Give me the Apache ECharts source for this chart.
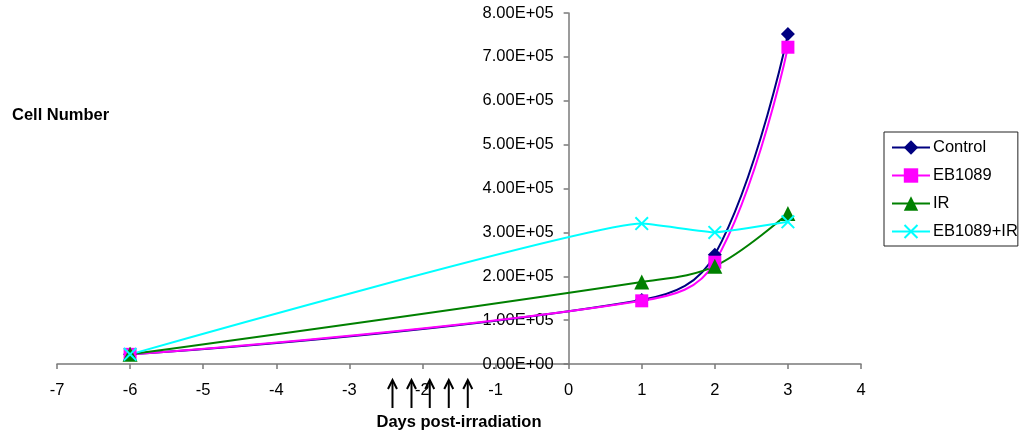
<!DOCTYPE html>
<html>
<head>
<meta charset="utf-8">
<title>Cell Number</title>
<script src="https://cdn.jsdelivr.net/npm/echarts@6/dist/echarts.min.js"></script>
<style>
  html, body { margin: 0; padding: 0; background: #fff; }
  #chart { width: 1027px; height: 436px; }
</style>
</head>
<body>
<div id="chart"></div>
<script>
// Days post-irradiation at which cells were counted
const days = [-6, 1, 2, 3];

// Cell counts per treatment group
const control   = [22000, 146000, 249000, 752000];
const eb1089    = [22000, 144000, 232000, 722000];
const ir        = [22000, 187000, 223000, 343000];
const eb1089Ir  = [22000, 320000, 300000, 324000];

// Irradiation time points, marked with arrows under the axis
const arrowDays = [-2.41, -2.15, -1.9, -1.64, -1.38];

const FONT = '"Liberation Sans", Arial, sans-serif';
const AXIS_GREY = '#7a7a7a';

// Cross-shaped symbol (filled outline so it can be coloured like the others)
const CROSS = 'path://M0,1 L1,0 L5,4 L9,0 L10,1 L6,5 L10,9 L9,10 L5,6 L1,10 L0,9 L4,5 Z';

function pairs(ys) {
  return days.map((d, i) => [d, ys[i]]);
}

function sci(v) {
  if (v === 0) return '0.00E+00';
  const e = Math.floor(Math.log10(Math.abs(v)) + 1e-9);
  const m = v / Math.pow(10, e);
  return m.toFixed(2) + 'E' + (e < 0 ? '-' : '+') + String(Math.abs(e)).padStart(2, '0');
}

function lineSeries(name, data, color, symbol, size, smooth) {
  return {
    name: name,
    type: 'line',
    data: pairs(data),
    smooth: smooth,
    symbol: symbol,
    symbolSize: size,
    showAllSymbol: true,
    lineStyle: { color: color, width: 2 },
    itemStyle: { color: color },
    emphasis: { disabled: true },
    z: 2
  };
}

const chart = echarts.init(document.getElementById('chart'), null, { renderer: 'canvas' });

const option = {
  animation: false,
  backgroundColor: '#ffffff',
  textStyle: { fontFamily: FONT, color: '#000' },
  grid: { left: 57, right: 166, top: 13, bottom: 72, containLabel: false, outerBoundsMode: 'none' },
  xAxis: {
    type: 'value',
    min: -7,
    max: 4,
    interval: 1,
    name: 'Days post-irradiation',
    nameLocation: 'middle',
    nameGap: 50,
    nameTextStyle: { fontFamily: FONT, fontWeight: 'bold', fontSize: 16.5, color: '#000' },
    axisLine: { onZero: false, lineStyle: { color: AXIS_GREY, width: 1.5 } },
    axisTick: { show: true, length: 5, lineStyle: { color: AXIS_GREY, width: 1.5 } },
    axisLabel: { fontFamily: FONT, fontSize: 16.5, color: '#000', margin: 18 },
    splitLine: { show: false }
  },
  yAxis: {
    type: 'value',
    position: 'left',
    offset: 0,
    min: 0,
    max: 800000,
    interval: 100000,
    axisLine: { show: true, onZero: false, lineStyle: { color: AXIS_GREY, width: 1.5 } },
    axisTick: { show: true, length: 5, lineStyle: { color: AXIS_GREY, width: 1.5 } },
    axisLabel: { fontFamily: FONT, fontSize: 16.5, color: '#000', margin: 15, formatter: sci },
    splitLine: { show: false }
  },
  legend: {
    orient: 'vertical',
    left: 884,
    top: 132,
    padding: [7, 0, 6, 7],
    itemGap: 11,
    itemWidth: 38,
    itemHeight: 18,
    borderColor: '#222',
    borderWidth: 1,
    textStyle: { fontFamily: FONT, fontSize: 16.5, color: '#000', padding: [0, 0, 0, -2] },
    data: ['Control', 'EB1089', 'IR', 'EB1089+IR']
  },
  series: [
    lineSeries('Control', control, '#000080', 'diamond', 14, 0.4),
    lineSeries('EB1089', eb1089, '#FF00FF', 'rect', 13, 0.4),
    lineSeries('IR', ir, '#008000', 'triangle', 15, 0.35),
    lineSeries('EB1089+IR', eb1089Ir, '#00FFFF', CROSS, 14, 0.1)
  ],
  graphic: [
    {
      type: 'text',
      left: 12,
      top: 107,
      style: { text: 'Cell Number', fontFamily: FONT, fontWeight: 'bold', fontSize: 16.5, fill: '#000' }
    }
  ]
};

chart.setOption(option);

// Move the value axis so it crosses the day axis at day 0
const gridLeft = option.grid.left;
const zeroX = chart.convertToPixel({ xAxisIndex: 0 }, 0);
chart.setOption({ yAxis: { offset: -(zeroX - gridLeft) } });

// Arrows for irradiation times, placed on the x scale beneath the axis
const arrowTop = 380, arrowBottom = 408, headW = 4.5, headH = 9;
const arrows = arrowDays.map(function (d) {
  const x = chart.convertToPixel({ xAxisIndex: 0 }, d);
  return {
    type: 'group',
    children: [
      { type: 'line', shape: { x1: x, y1: arrowTop + 2, x2: x, y2: arrowBottom },
        style: { stroke: '#000', lineWidth: 2 } },
      { type: 'polyline', shape: { points: [[x - headW, arrowTop + headH], [x, arrowTop], [x + headW, arrowTop + headH]] },
        style: { stroke: '#000', lineWidth: 2, fill: null } }
    ]
  };
});
chart.setOption({ graphic: option.graphic.concat(arrows) }, { replaceMerge: ['graphic'] });
</script>
</body>
</html>
